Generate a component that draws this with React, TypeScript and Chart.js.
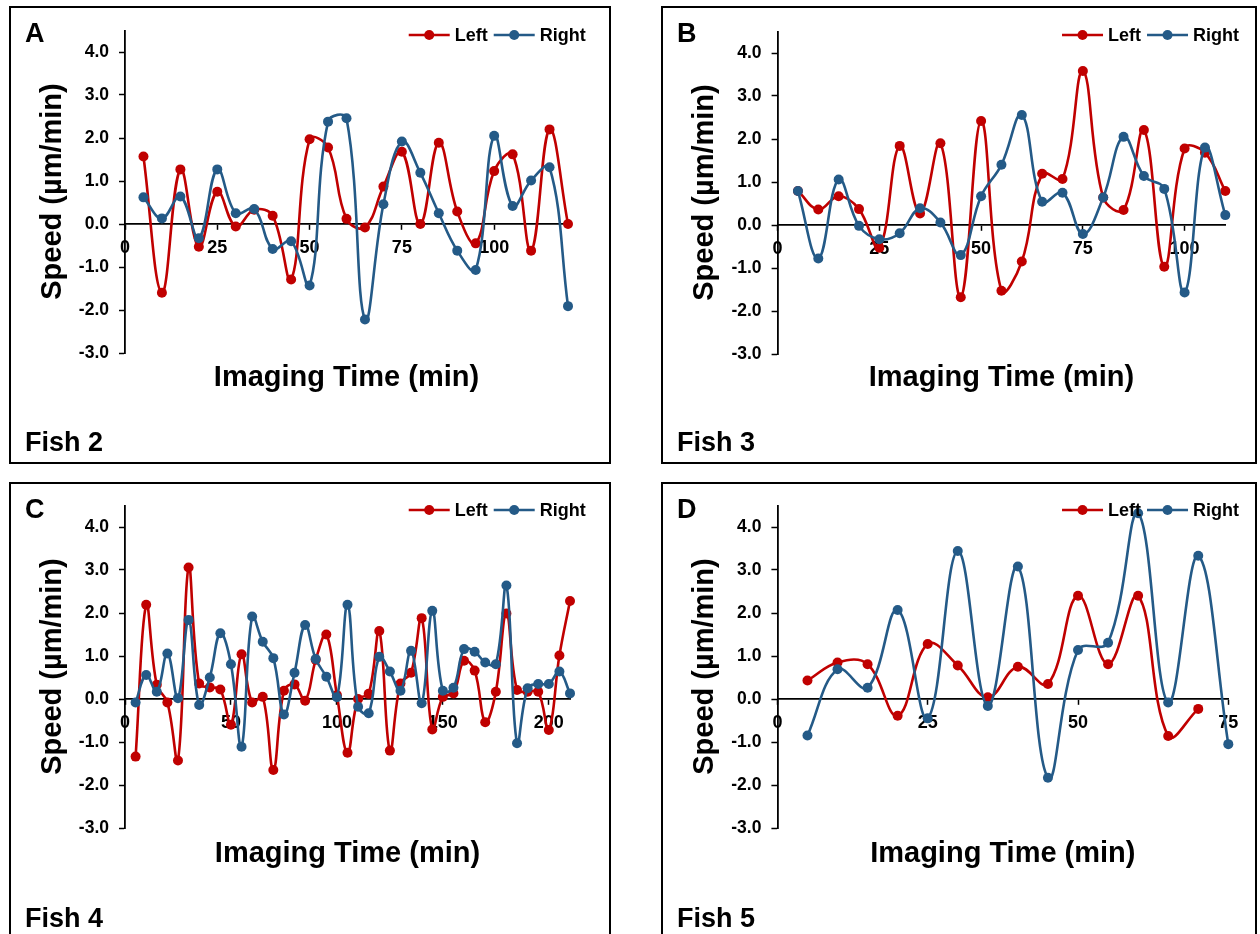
import React, { useEffect, useRef } from "react";
import { Chart, registerables } from "chart.js";

Chart.register(...registerables);

// ---------------- data ----------------
const yTickValues = [-3, -2, -1, 0, 1, 2, 3, 4];

const xTicksA = [0, 25, 50, 75, 100];
const timesA = [5, 10, 15, 20, 25, 30, 35, 40, 45, 50, 55, 60, 65, 70, 75, 80, 85, 90, 95, 100, 105, 110, 115, 120];
const leftA = [1.57, -1.6, 1.27, -0.53, 0.75, -0.06, 0.33, 0.19, -1.29, 1.97, 1.78, 0.12, -0.08, 0.87, 1.68, 0.0, 1.89, 0.29, -0.45, 1.23, 1.62, -0.62, 2.2, 0.0];
const rightA = [0.62, 0.13, 0.64, -0.33, 1.27, 0.25, 0.35, -0.58, -0.4, -1.43, 2.38, 2.46, -2.22, 0.46, 1.92, 1.19, 0.25, -0.62, -1.07, 2.05, 0.42, 1.01, 1.32, -1.91];

const xTicksB = [0, 25, 50, 75, 100];
const timesB = [5, 10, 15, 20, 25, 30, 35, 40, 45, 50, 55, 60, 65, 70, 75, 80, 85, 90, 95, 100, 105, 110];
const leftB = [0.79, 0.36, 0.67, 0.37, -0.53, 1.84, 0.27, 1.9, -1.68, 2.42, -1.53, -0.85, 1.19, 1.07, 3.58, 0.64, 0.35, 2.21, -0.97, 1.78, 1.68, 0.79];
const rightB = [0.79, -0.78, 1.06, -0.02, -0.33, -0.19, 0.39, 0.06, -0.7, 0.67, 1.4, 2.56, 0.54, 0.75, -0.21, 0.64, 2.05, 1.14, 0.84, -1.57, 1.8, 0.23];

const xTicksC = [0, 50, 100, 150, 200];
const timesC = [5, 10, 15, 20, 25, 30, 35, 40, 45, 50, 55, 60, 65, 70, 75, 80, 85, 90, 95, 100, 105, 110, 115, 120, 125, 130, 135, 140, 145, 150, 155, 160, 165, 170, 175, 180, 185, 190, 195, 200, 205, 210];
const leftC = [-1.34, 2.19, 0.33, -0.08, -1.43, 3.06, 0.36, 0.27, 0.22, -0.6, 1.04, -0.08, 0.05, -1.65, 0.19, 0.34, -0.04, 0.91, 1.5, 0.09, -1.25, 0.0, 0.12, 1.58, -1.2, 0.36, 0.61, 1.88, -0.71, 0.05, 0.13, 0.89, 0.66, -0.54, 0.17, 1.99, 0.21, 0.17, 0.17, -0.72, 1.01, 2.28];
const rightC = [-0.08, 0.56, 0.17, 1.06, 0.02, 1.84, -0.14, 0.5, 1.53, 0.81, -1.11, 1.92, 1.33, 0.95, -0.36, 0.61, 1.72, 0.93, 0.52, 0.04, 2.19, -0.18, -0.33, 0.98, 0.64, 0.19, 1.12, -0.1, 2.05, 0.19, 0.26, 1.16, 1.1, 0.85, 0.81, 2.64, -1.03, 0.25, 0.35, 0.35, 0.64, 0.13];

const xTicksD = [0, 25, 50, 75];
const timesDLeft = [5, 10, 15, 20, 25, 30, 35, 40, 45, 50, 55, 60, 65, 70];
const leftD = [0.43, 0.85, 0.81, -0.39, 1.28, 0.78, 0.04, 0.75, 0.35, 2.4, 0.81, 2.4, -0.86, -0.23];
const timesDRight = [5, 10, 15, 20, 25, 30, 35, 40, 45, 50, 55, 60, 65, 70, 75];
const rightD = [-0.85, 0.69, 0.26, 2.07, -0.45, 3.44, -0.16, 3.08, -1.83, 1.14, 1.31, 4.32, -0.08, 3.33, -1.05];

const seriesNames = ["Left", "Right"];
const yTitle = "Speed (µm/min)";
const xTitle = "Imaging Time (min)";

// ---------------- layout / style ----------------
const FONT = '"Liberation Sans", Arial, Helvetica, sans-serif';
const RED = "#C00000";
const BLUE = "#245A87";
const YW = 60;
const MARKER_R = 5;

const panels = [
  { letter: "A", fish: "Fish 2", ox: 9, oy: 6, w: 602, h: 458, area: { left: 116, right: 559, top: 24.5, bottom: 347 }, xMax: 120, xTicks: xTicksA, lt: timesA, lv: leftA, rt: timesA, rv: rightA, legendRight: 576.7, legendY: 29 },
  { letter: "B", fish: "Fish 3", ox: 661, oy: 6, w: 596, h: 458, area: { left: 116.6, right: 564.3, top: 25.5, bottom: 348 }, xMax: 110, xTicks: xTicksB, lt: timesB, lv: leftB, rt: timesB, rv: rightB, legendRight: 578, legendY: 29 },
  { letter: "C", fish: "Fish 4", ox: 9, oy: 482, w: 602, h: 462, area: { left: 116, right: 561, top: 23.5, bottom: 346 }, xMax: 210, xTicks: xTicksC, lt: timesC, lv: leftC, rt: timesC, rv: rightC, legendRight: 576.7, legendY: 28 },
  { letter: "D", fish: "Fish 5", ox: 661, oy: 482, w: 596, h: 462, area: { left: 116.4, right: 567.3, top: 23.5, bottom: 346 }, xMax: 75, xTicks: xTicksD, lt: timesDLeft, lv: leftD, rt: timesDRight, rv: rightD, legendRight: 578, legendY: 28 },
];

const legendPlugin = {
  id: "panelLegend",
  afterDraw(chart: any, _args: any, opts: any) {
    const ctx = chart.ctx;
    const ds = chart.data.datasets;
    ctx.save();
    ctx.font = `bold 18px ${FONT}`;
    ctx.textBaseline = "middle";
    const lineLen = 41;
    const gapText = 5;
    const gapItem = 6;
    const widths = ds.map((d: any) => ctx.measureText(d.label).width);
    let total = 0;
    ds.forEach((_d: any, i: number) => {
      total += lineLen + gapText + widths[i];
    });
    total += gapItem * (ds.length - 1);
    let cx = opts.right - total;
    const y = opts.y;
    ds.forEach((d: any, i: number) => {
      ctx.strokeStyle = d.borderColor;
      ctx.lineWidth = 2.6;
      ctx.beginPath();
      ctx.moveTo(cx, y);
      ctx.lineTo(cx + lineLen, y);
      ctx.stroke();
      ctx.fillStyle = d.borderColor;
      ctx.beginPath();
      ctx.arc(cx + lineLen / 2, y, MARKER_R, 0, Math.PI * 2);
      ctx.fill();
      cx += lineLen + gapText;
      ctx.fillStyle = "#000";
      ctx.fillText(d.label, cx, y + 1);
      cx += widths[i] + gapItem;
    });
    ctx.restore();
  },
};

function Panel({ cfg }: { cfg: any }) {
  const ref = useRef<HTMLCanvasElement>(null);

  useEffect(() => {
    if (!ref.current) return;
    const a = cfg.area;
    const toPts = (t: number[], v: number[]) => t.map((x, i) => ({ x, y: v[i] }));
    const mkDs = (label: string, color: string, data: any[], order: number) => ({
      label,
      data,
      borderColor: color,
      backgroundColor: color,
      pointBackgroundColor: color,
      pointBorderColor: color,
      borderWidth: 2.6,
      pointRadius: MARKER_R,
      pointBorderWidth: 0,
      tension: 0.4,
      fill: false,
      clip: false as any,
      order,
    });
    const chart = new Chart(ref.current, {
      type: "line",
      data: {
        datasets: [
          mkDs(seriesNames[0], RED, toPts(cfg.lt, cfg.lv), 1),
          mkDs(seriesNames[1], BLUE, toPts(cfg.rt, cfg.rv), 0),
        ],
      },
      options: {
        animation: false,
        responsive: false,
        maintainAspectRatio: false,
        devicePixelRatio: 1,
        events: [],
        layout: {
          padding: {
            left: a.left - YW,
            right: cfg.w - a.right,
            top: a.top,
            bottom: cfg.h - a.bottom,
          },
        },
        plugins: {
          legend: { display: false },
          tooltip: { enabled: false },
          title: { display: false },
          panelLegend: { right: cfg.legendRight, y: cfg.legendY },
        } as any,
        scales: {
          x: {
            type: "linear",
            position: { y: 0 } as any,
            min: 0,
            max: cfg.xMax,
            afterBuildTicks: (s: any) => {
              s.ticks = cfg.xTicks.map((v: number) => ({ value: v }));
            },
            ticks: {
              color: "#000",
              font: { family: FONT, size: 18, weight: "bold" },
              padding: 8,
              maxRotation: 0,
              autoSkip: false,
              callback: (v: any) => String(v),
            },
            grid: {
              display: true,
              drawOnChartArea: false,
              drawTicks: true,
              tickLength: 5,
              tickColor: "#000",
              tickWidth: 1.5,
            },
            border: { display: true, color: "#000", width: 1.8 },
          },
          y: {
            type: "linear",
            position: "left",
            min: -3,
            max: 4.5,
            afterBuildTicks: (s: any) => {
              s.ticks = yTickValues.map((v) => ({ value: v }));
            },
            afterFit: (s: any) => {
              s.width = YW;
            },
            ticks: {
              color: "#000",
              font: { family: FONT, size: 17.5, weight: "bold" },
              padding: 10,
              autoSkip: false,
              callback: (v: any) => Number(v).toFixed(1),
            },
            grid: {
              display: true,
              drawOnChartArea: false,
              drawTicks: true,
              tickLength: 6,
              tickColor: "#000",
              tickWidth: 1.5,
            },
            border: { display: true, color: "#000", width: 1.8 },
          },
        },
      },
      plugins: [legendPlugin as any],
    });
    return () => chart.destroy();
  }, [cfg]);

  const a = cfg.area;
  const textBase: React.CSSProperties = {
    position: "absolute",
    fontFamily: FONT,
    fontWeight: "bold",
    color: "#000",
    whiteSpace: "nowrap",
  };
  const yTitleLen = 300;
  return (
    <>
      <canvas
        ref={ref}
        width={cfg.w}
        height={cfg.h}
        style={{ position: "absolute", left: cfg.ox, top: cfg.oy, width: cfg.w, height: cfg.h }}
      />
      <div
        style={{
          position: "absolute",
          left: cfg.ox,
          top: cfg.oy,
          width: cfg.w,
          height: cfg.h,
          border: "2px solid #000",
          boxSizing: "border-box",
          pointerEvents: "none",
        }}
      />
      <div style={{ ...textBase, left: cfg.ox + 16, top: cfg.oy + 14.4, fontSize: 27, lineHeight: "27px" }}>{cfg.letter}</div>
      <div style={{ ...textBase, left: cfg.ox + 16, top: cfg.oy + 422.8, fontSize: 27, lineHeight: "27px" }}>{cfg.fish}</div>
      <div
        style={{
          ...textBase,
          left: cfg.ox + 42 - yTitleLen / 2,
          top: cfg.oy + (a.top + a.bottom) / 2 - 14.5,
          width: yTitleLen,
          height: 29,
          textAlign: "center",
          fontSize: 29,
          lineHeight: "29px",
          transform: "rotate(-90deg)",
        }}
      >
        {yTitle}
      </div>
      <div
        style={{
          ...textBase,
          left: cfg.ox + (a.left + a.right) / 2 - 200,
          top: cfg.oy + 355.5,
          width: 400,
          textAlign: "center",
          fontSize: 29,
          lineHeight: "29px",
        }}
      >
        {xTitle}
      </div>
    </>
  );
}

export default function App() {
  return (
    <div
      style={{
        position: "fixed",
        left: 0,
        top: 0,
        width: 1260,
        height: 934,
        overflow: "hidden",
        background: "#fff",
      }}
    >
      {panels.map((p) => (
        <Panel key={p.letter} cfg={p} />
      ))}
    </div>
  );
}
